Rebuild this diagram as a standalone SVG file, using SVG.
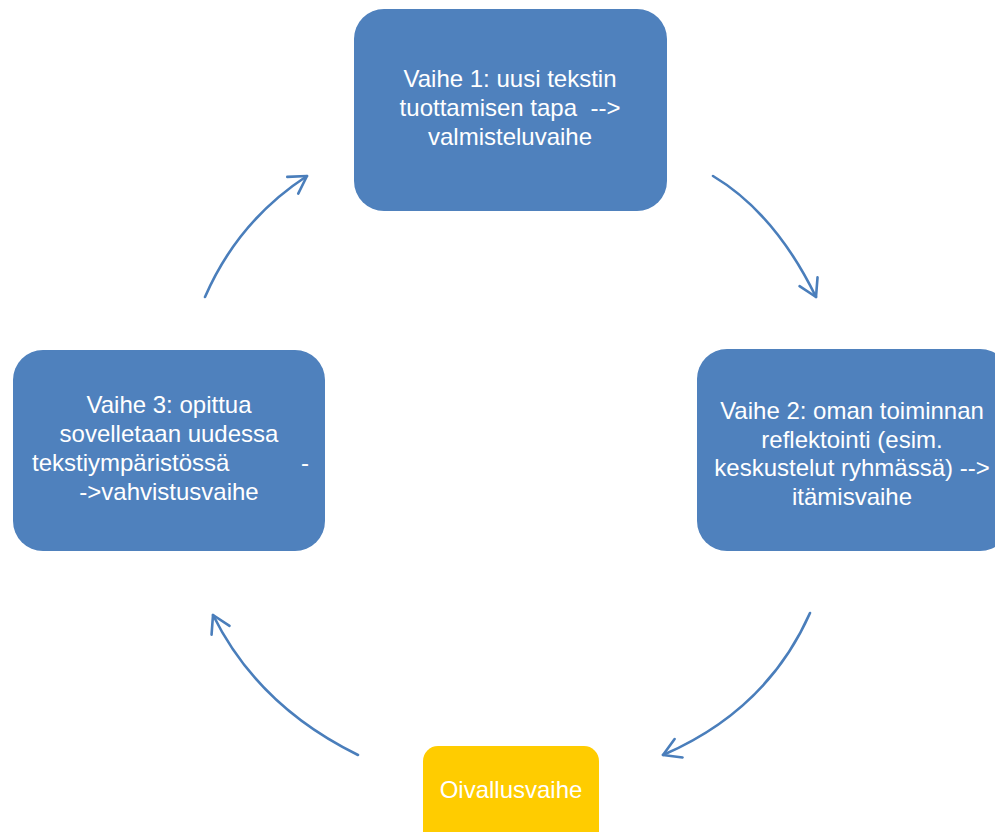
<svg xmlns="http://www.w3.org/2000/svg" width="995" height="832" viewBox="0 0 995 832">
  <defs>
    <style>
      .phase { fill: #4F81BD; }
      .insight { fill: #FFCC00; }
      .label { font-family: "Liberation Sans", Arial, sans-serif; font-size: 24px; fill: #FFFFFF; text-anchor: middle; }
      .keep { white-space: pre; }
      .flow { fill: none; stroke: #4A7EBB; stroke-width: 2.6; stroke-linecap: round; }
    </style>
    <marker id="head" markerUnits="userSpaceOnUse" viewBox="-22 -14 26 28" refX="0" refY="0" markerWidth="26" markerHeight="28" orient="auto">
      <path d="M-17,-10 L0,0 L-17,10" fill="none" stroke="#4A7EBB" stroke-width="2.6" stroke-linecap="round" stroke-linejoin="round"/>
    </marker>
  </defs>
  <rect width="995" height="832" fill="#FFFFFF"/>

  <!-- cycle arrows -->
  <g id="connectors">
    <path class="flow" d="M713,176 Q775,213 816,297" marker-end="url(#head)"/>
    <path class="flow" d="M810,613 Q767,710 663,755" marker-end="url(#head)"/>
    <path class="flow" d="M358,755 Q258,706 213,615" marker-end="url(#head)"/>
    <path class="flow" d="M205,297 Q238,221 307,176" marker-end="url(#head)"/>
  </g>

  <g id="phase1">
    <rect class="phase" x="354" y="9" width="313" height="202" rx="30"/>
    <text class="label"><tspan x="510" y="87">Vaihe 1: uusi tekstin</tspan><tspan class="keep" x="510" y="116">tuottamisen tapa  --&gt;</tspan><tspan x="510" y="145">valmisteluvaihe</tspan></text>
  </g>

  <g id="phase2">
    <rect class="phase" x="697" y="349" width="313" height="202" rx="30"/>
    <text class="label"><tspan x="852" y="419">Vaihe 2: oman toiminnan</tspan><tspan x="852" y="448">reflektointi (esim.</tspan><tspan x="852" y="476">keskustelut ryhmässä) --&gt;</tspan><tspan x="852" y="505">itämisvaihe</tspan></text>
  </g>

  <g id="phase3">
    <rect class="phase" x="13" y="350" width="312" height="201" rx="30"/>
    <text class="label"><tspan x="169" y="413">Vaihe 3: opittua</tspan><tspan x="169" y="442">sovelletaan uudessa</tspan><tspan x="32" y="471" text-anchor="start">tekstiympäristössä</tspan><tspan x="301" y="471" text-anchor="start">-</tspan><tspan x="169" y="500">-&gt;vahvistusvaihe</tspan></text>
  </g>

  <g id="insight">
    <rect class="insight" x="423" y="746" width="176" height="110" rx="15"/>
    <text class="label" x="511" y="798">Oivallusvaihe</text>
  </g>
</svg>
